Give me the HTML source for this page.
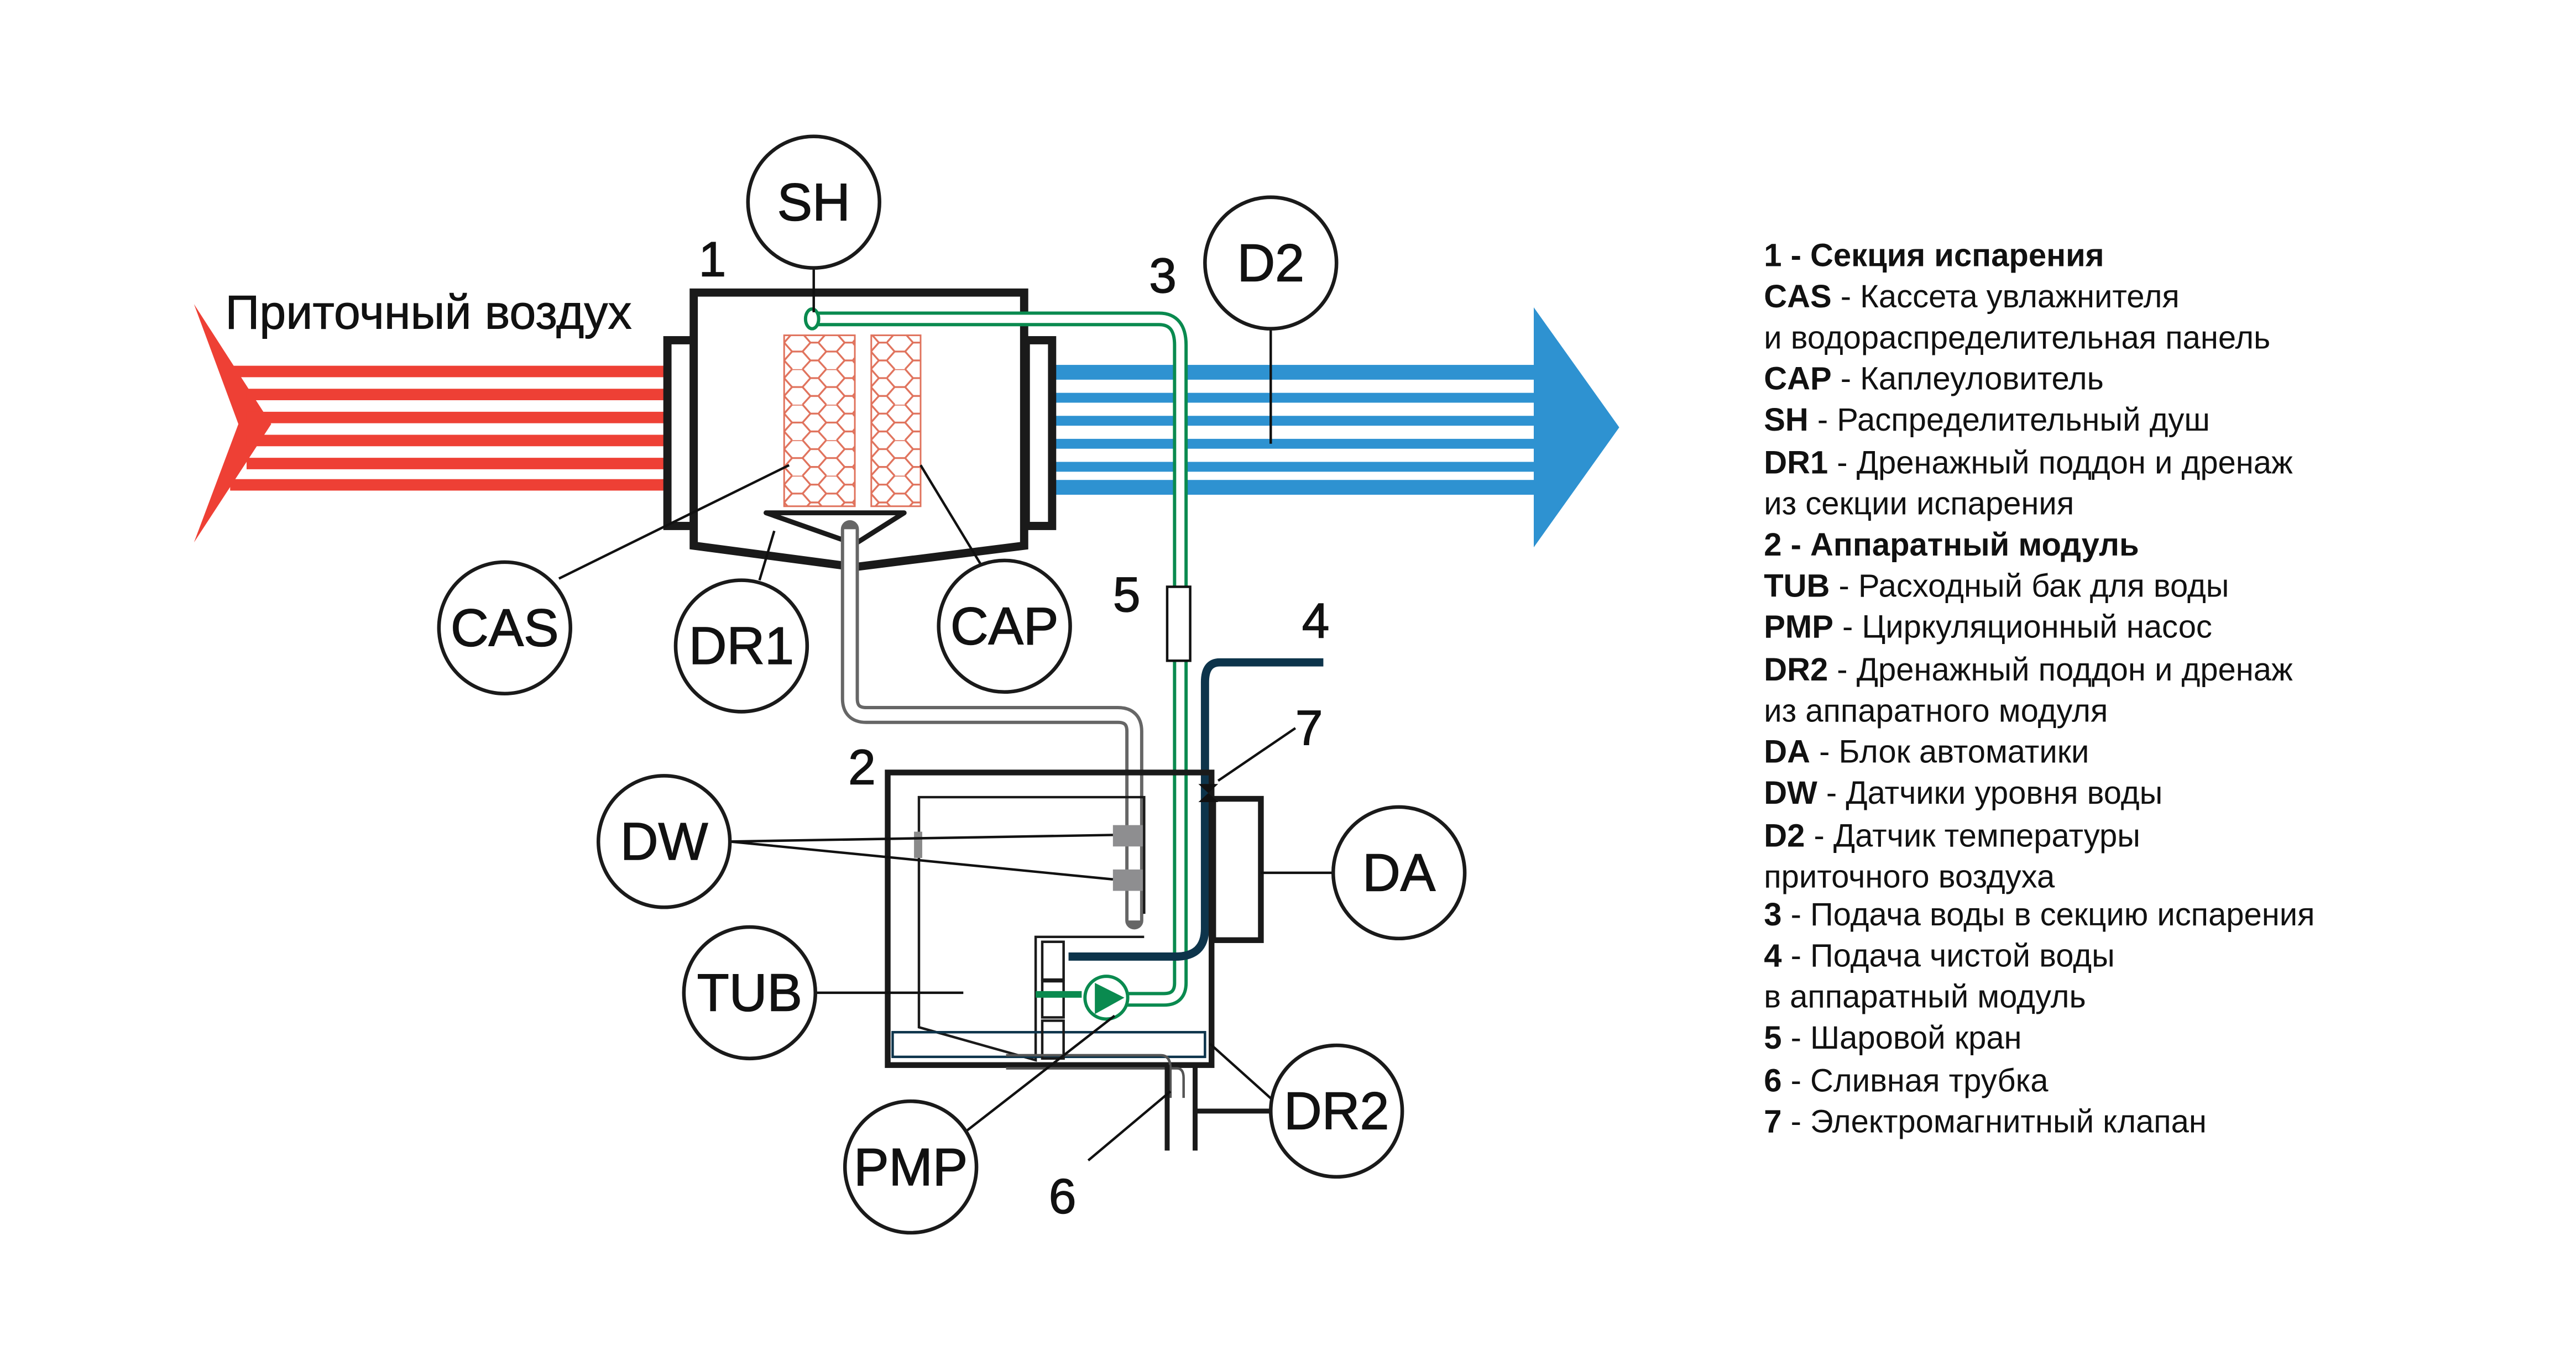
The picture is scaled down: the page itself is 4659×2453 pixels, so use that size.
<!DOCTYPE html>
<html><head><meta charset="utf-8"><style>
html,body{margin:0;padding:0;background:#fff}
svg{display:block}
text{font-family:"Liberation Sans",sans-serif;fill:#111}
</style></head><body>
<svg width="4659" height="2453" viewBox="0 0 1567 825" preserveAspectRatio="none" xmlns="http://www.w3.org/2000/svg">
<rect width="1567" height="825" fill="#fff"/>
<!-- red arrow -->
<g fill="#ee4035">
<polygon points="118,185 165,258 118,330 145,258"/>
<g stroke="#ee4035" stroke-width="7">
<line x1="140" y1="226" x2="405" y2="226"/>
<line x1="150" y1="240" x2="405" y2="240"/>
<line x1="150" y1="254" x2="405" y2="254"/>
<line x1="150" y1="268" x2="405" y2="268"/>
<line x1="150" y1="282" x2="405" y2="282"/>
<line x1="140" y1="295" x2="405" y2="295"/>
</g></g>
<!-- blue arrow -->
<g fill="#2e92d1">
<polygon points="933,187 985,260 933,333"/>
<rect x="640" y="222" width="295" height="9"/>
<rect x="640" y="239" width="295" height="6"/>
<rect x="640" y="253" width="295" height="6"/>
<rect x="640" y="267" width="295" height="6"/>
<rect x="640" y="281" width="295" height="6"/>
<rect x="640" y="292" width="295" height="9"/>
</g>
<text x="137" y="200" font-size="29" stroke="#111" stroke-width="0.3">Приточный воздух</text>
<!-- evaporation section -->
<g fill="none" stroke="#1a1a1a" stroke-width="5">
<rect x="406" y="207" width="16" height="113"/>
<rect x="624" y="207" width="16" height="113"/>
<path d="M422,178 H623 V332 L520,345 L422,332 Z" fill="#fff"/>
</g>
<!-- cassettes -->
<defs><pattern id="hex" width="13" height="13.5" patternUnits="userSpaceOnUse" patternTransform="translate(477,203) scale(1.6)">
<path d="M0,3.4 L3,0 H7 L10,3.4 L7,6.8 H3 Z M10,3.4 H13 M3,6.8 L0,10.2 L3,13.5 M7,6.8 L10,10.2 L7,13.5 M10,10.2 H13" fill="none" stroke="#e0725c" stroke-width="0.7"/>
</pattern></defs>
<rect x="477" y="204" width="43" height="104" fill="url(#hex)" stroke="#e0725c" stroke-width="1"/>
<rect x="530" y="204" width="30" height="104" fill="url(#hex)" stroke="#e0725c" stroke-width="1"/>
<!-- DR1 funnel -->
<polygon points="466,312 550,312 520,331" fill="none" stroke="#1a1a1a" stroke-width="3" stroke-linejoin="round"/>
<!-- gray drain pipe -->
<path d="M517,322 V425 Q517,435 527,435 H680 Q690,435 690,445 V560" fill="none" stroke="#666" stroke-width="11" stroke-linecap="round"/>
<path d="M517,322 V425 Q517,435 527,435 H680 Q690,435 690,445 V560" fill="none" stroke="#fff" stroke-width="7"/>
<rect x="677" y="502" width="19" height="13" fill="#8e8e90"/>
<rect x="677" y="529" width="19" height="13" fill="#8e8e90"/>
<!-- green pipe -->
<path d="M493,194 H705 Q718,194 718,210 V598 Q718,608 708,608 H660" fill="none" stroke="#0a8a4f" stroke-width="9"/>
<path d="M493,194 H705 Q718,194 718,210 V598 Q718,608 708,608 H660" fill="none" stroke="#fff" stroke-width="5"/>
<ellipse cx="494" cy="194" rx="4" ry="6" fill="#fff" stroke="#0a8a4f" stroke-width="2"/>
<line x1="495" y1="163" x2="495" y2="190" stroke="#111" stroke-width="1.5"/>
<rect x="710" y="357" width="14" height="45" fill="#fff" stroke="#111" stroke-width="1.5"/>
<!-- pipe 4 -->
<path d="M805,403 H742 Q733,403 733,415 V565 Q733,582 715,582 H650" fill="none" stroke="#0d344b" stroke-width="5"/>
<!-- module -->
<rect x="540" y="470" width="197" height="178" fill="none" stroke="#1a1a1a" stroke-width="3.5"/>
<rect x="738" y="486" width="29" height="86" fill="#fff" stroke="#1a1a1a" stroke-width="3.5"/>
<path d="M696,556 V485 H559 V625 L630,645 V603 M630,625 V570 H696" fill="none" stroke="#1a1a1a" stroke-width="1.5"/>
<rect x="556" y="506" width="5" height="16" fill="#8a8a8a"/>
<rect x="543" y="628" width="190" height="15" fill="none" stroke="#0d344b" stroke-width="1.5"/>
<g fill="none" stroke="#1a1a1a" stroke-width="1.5">
<rect x="634" y="573" width="13" height="23"/>
<rect x="634" y="597" width="13" height="22"/>
<rect x="634" y="621" width="13" height="23"/>
</g>
<path d="M630,605 H658" stroke="#0a8a4f" stroke-width="4"/>
<circle cx="673" cy="607" r="13" fill="#fff" stroke="#0a8a4f" stroke-width="2"/>
<polygon points="666,598 684,607 666,617" fill="#0a8a4f"/>
<polygon points="729,477 741,477 729,488 741,488" fill="#111"/>
<path d="M612,642 H706 Q712,642 712,650 V668 M612,650 H716 Q720,650 720,656 V668" fill="none" stroke="#555" stroke-width="1.5"/>
<path d="M710,648 V700 M727,648 V700 M727,676 H775" fill="none" stroke="#1a1a1a" stroke-width="3"/>
<!-- leader lines -->
<g stroke="#111" stroke-width="1.5" fill="none">
<line x1="773" y1="200" x2="773" y2="270"/>
<line x1="340" y1="352" x2="480" y2="283"/>
<line x1="462" y1="353" x2="471" y2="323"/>
<line x1="597" y1="344" x2="560" y2="283"/>
<line x1="444" y1="512" x2="677" y2="508"/>
<line x1="444" y1="512" x2="677" y2="535"/>
<line x1="496" y1="604" x2="586" y2="604"/>
<line x1="767" y1="531" x2="811" y2="531"/>
<line x1="588" y1="688" x2="678" y2="618"/>
<line x1="662" y1="706" x2="712" y2="664"/>
<line x1="775" y1="670" x2="736" y2="635"/>
<line x1="741" y1="475" x2="788" y2="443"/>
</g>
<!-- circles -->
<g fill="#fff" stroke="#1a1a1a" stroke-width="2.2">
<circle cx="495" cy="123" r="40"/>
<circle cx="773" cy="160" r="40"/>
<circle cx="307" cy="382" r="40"/>
<circle cx="451" cy="393" r="40"/>
<circle cx="611" cy="381" r="40"/>
<circle cx="404" cy="512" r="40"/>
<circle cx="456" cy="604" r="40"/>
<circle cx="851" cy="531" r="40"/>
<circle cx="554" cy="710" r="40"/>
<circle cx="813" cy="676" r="40"/>
</g>
<g font-size="32" text-anchor="middle" stroke="#111" stroke-width="0.5">
<text x="495" y="134">SH</text>
<text x="773" y="171">D2</text>
<text x="307" y="393">CAS</text>
<text x="451" y="404">DR1</text>
<text x="611" y="392">CAP</text>
<text x="404" y="523">DW</text>
<text x="456" y="615">TUB</text>
<text x="851" y="542">DA</text>
<text x="554" y="721">PMP</text>
<text x="813" y="687">DR2</text>
</g>
<g font-size="30" stroke="#111" stroke-width="0.5">
<text x="425" y="168">1</text>
<text x="699" y="178">3</text>
<text x="677" y="372">5</text>
<text x="792" y="388">4</text>
<text x="788" y="453">7</text>
<text x="516" y="477">2</text>
<text x="638" y="738">6</text>
</g>
<!-- legend -->
<g font-size="19.5">
<text x="1073" y="162" font-weight="bold">1 - Секция испарения</text>
<text x="1073" y="187"><tspan font-weight="bold">CAS</tspan> - Кассета увлажнителя</text>
<text x="1073" y="212">и водораспределительная панель</text>
<text x="1073" y="237"><tspan font-weight="bold">CAP</tspan> - Каплеуловитель</text>
<text x="1073" y="262"><tspan font-weight="bold">SH</tspan> - Распределительный душ</text>
<text x="1073" y="288"><tspan font-weight="bold">DR1</tspan> - Дренажный поддон и дренаж</text>
<text x="1073" y="313">из секции испарения</text>
<text x="1073" y="338" font-weight="bold">2 - Аппаратный модуль</text>
<text x="1073" y="363"><tspan font-weight="bold">TUB</tspan> - Расходный бак для воды</text>
<text x="1073" y="388"><tspan font-weight="bold">PMP</tspan> - Циркуляционный насос</text>
<text x="1073" y="414"><tspan font-weight="bold">DR2</tspan> - Дренажный поддон и дренаж</text>
<text x="1073" y="439">из аппаратного модуля</text>
<text x="1073" y="464"><tspan font-weight="bold">DA</tspan> - Блок автоматики</text>
<text x="1073" y="489"><tspan font-weight="bold">DW</tspan> - Датчики уровня воды</text>
<text x="1073" y="515"><tspan font-weight="bold">D2</tspan> - Датчик температуры</text>
<text x="1073" y="540">приточного воздуха</text>
<text x="1073" y="563"><tspan font-weight="bold">3</tspan> - Подача воды в секцию испарения</text>
<text x="1073" y="588"><tspan font-weight="bold">4</tspan> - Подача чистой воды</text>
<text x="1073" y="613">в аппаратный модуль</text>
<text x="1073" y="638"><tspan font-weight="bold">5</tspan> - Шаровой кран</text>
<text x="1073" y="664"><tspan font-weight="bold">6</tspan> - Сливная трубка</text>
<text x="1073" y="689"><tspan font-weight="bold">7</tspan> - Электромагнитный клапан</text>
</g>
</svg>
</body></html>
